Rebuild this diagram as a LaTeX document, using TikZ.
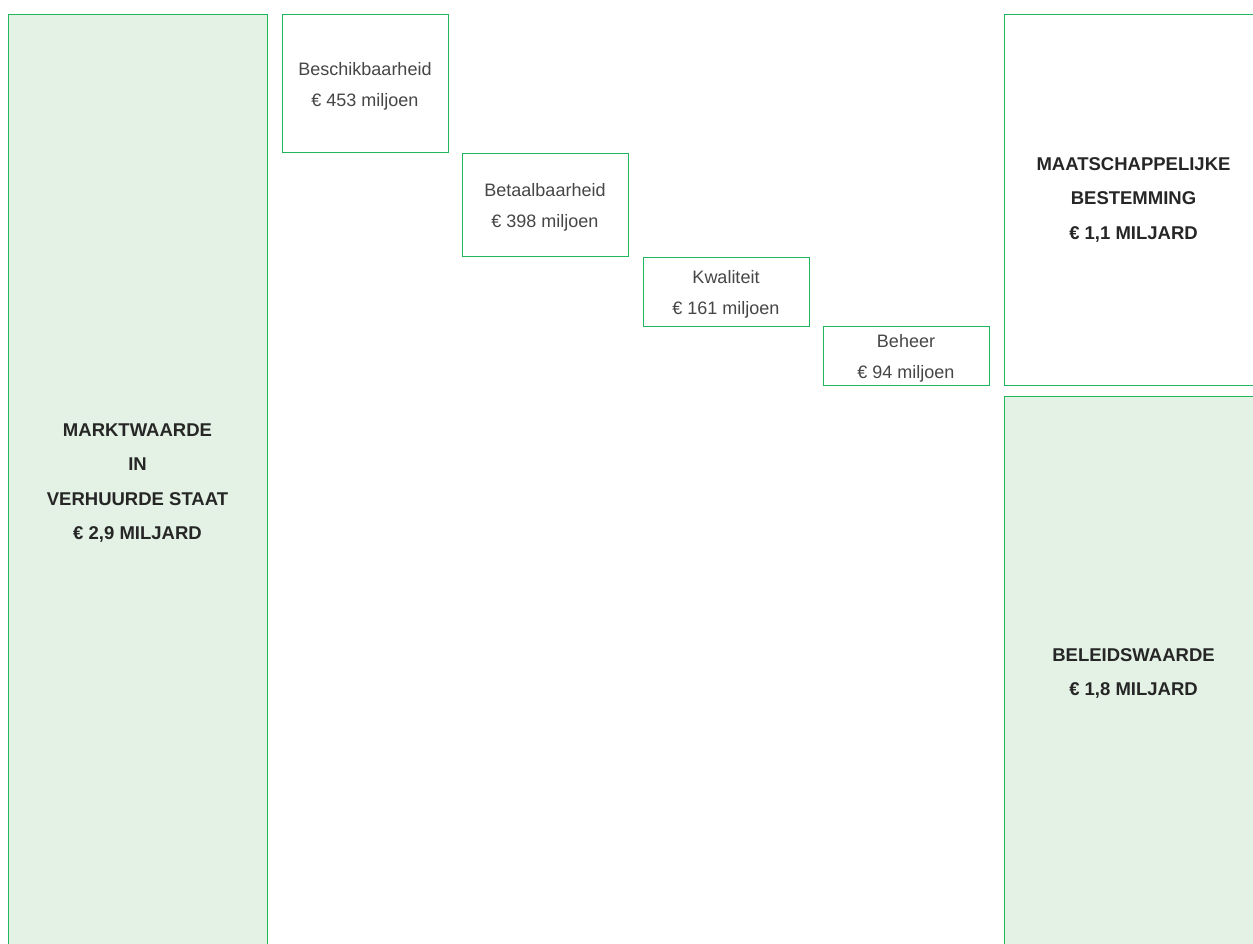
\documentclass[tikz,border=0pt]{standalone}
\usepackage{fontspec}
\setmainfont{Liberation Sans}
\usetikzlibrary{positioning}
\definecolor{groen}{RGB}{32,182,92}
\definecolor{lichtgroen}{RGB}{227,242,229}
\definecolor{tekst}{RGB}{70,70,70}
\newcommand{\deelpost}[2]{\rule{0pt}{19pt}#1\\#2}
\tikzset{
  blok/.style = {draw=groen, line width=1pt, rectangle, align=center,
    inner sep=0pt, outer sep=0pt},
  totaal/.style = {blok, fill=lichtgroen, minimum width=259pt, text=black!85,
    font=\fontsize{18.5}{34.5}\selectfont\bfseries},% hoofdblok, groen
  bestemming/.style = {totaal, fill=white},% hoofdblok, wit
  post/.style = {blok, fill=white, minimum width=166pt, text=tekst,
    font=\fontsize{18}{31}\selectfont}% deelpost
}
\begin{document}
\begin{tikzpicture}[x=1pt,y=-1pt]
  \useasboundingbox (0,0) rectangle (1253,943);
  \clip (0,0) rectangle (1253,943);
  \node [totaal, minimum height=938pt, anchor=north west] (markt) at (8,14)
    {MARKTWAARDE\\IN\\VERHUURDE STAAT\\€ 2,9 MILJARD};
  \node [post, minimum height=138pt, anchor=north west] (beschik) at (282,14)
    {\deelpost{Beschikbaarheid}{€ 453 miljoen}};
  \node [post, minimum height=103pt, below right=1pt and 14pt of beschik] (betaal)
    {\deelpost{Betaalbaarheid}{€ 398 miljoen}};
  \node [post, minimum height=69pt, below right=1pt and 15pt of betaal] (kwal)
    {\deelpost{Kwaliteit}{€ 161 miljoen}};
  \node [post, minimum height=59pt, below right=0pt and 14pt of kwal] (beheer)
    {\deelpost{Beheer}{€ 94 miljoen}};
  \node [bestemming, minimum height=371pt, anchor=north west] (maatsch) at (1004,14)
    {MAATSCHAPPELIJKE\\BESTEMMING\\€ 1,1 MILJARD};
  \node [totaal, minimum height=555pt, below=11pt of maatsch] (beleid)
    {BELEIDSWAARDE\\€ 1,8 MILJARD};
\end{tikzpicture}
\end{document}
